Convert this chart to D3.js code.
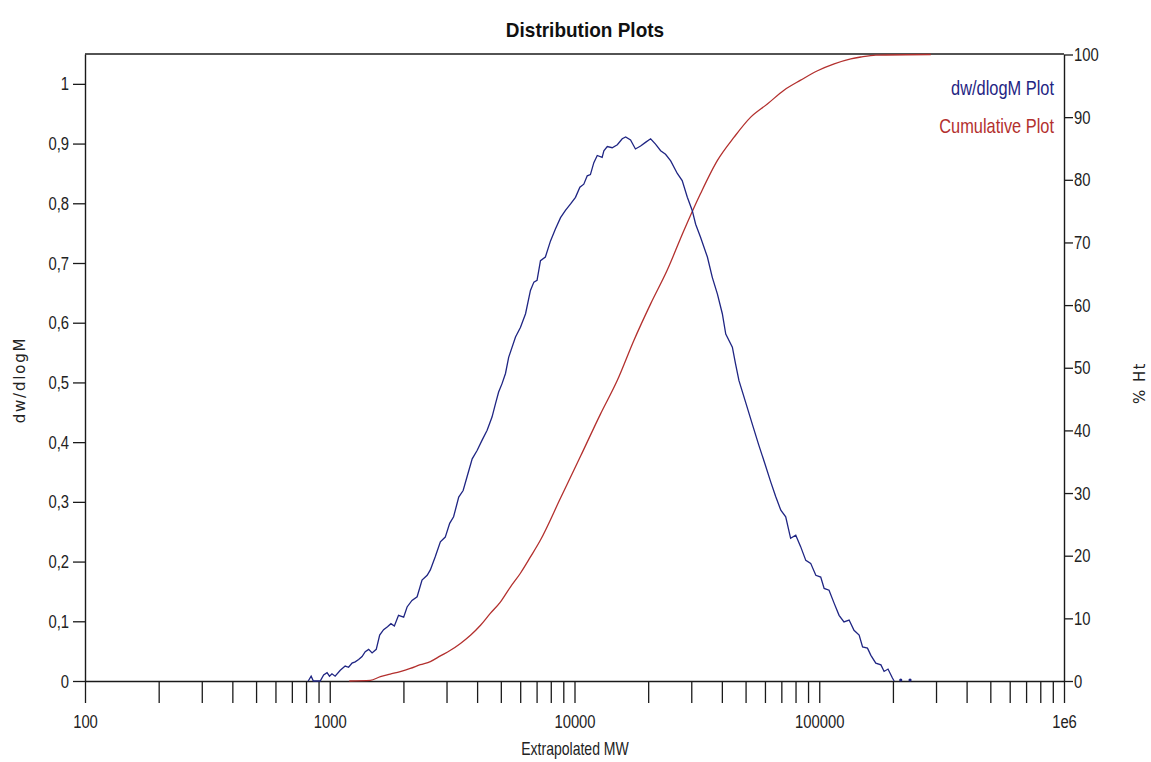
<!DOCTYPE html>
<html>
<head>
<meta charset="utf-8">
<script src="https://cdn.jsdelivr.net/npm/d3@7"></script>
<style>
  html, body { margin: 0; padding: 0; background: #ffffff; }
  svg { display: block; }
</style>
</head>
<body>
<svg id="chart" width="1151" height="762"></svg>
<script>
// dw/dlogM trace: log10(MW) and normalised weight fraction
const dwLogM = [
  2.912, 2.924, 2.933, 2.961, 2.975, 2.989, 2.999, 3.009, 3.022, 3.043,
  3.063, 3.077, 3.091, 3.104, 3.118, 3.132, 3.145, 3.159, 3.173, 3.190,
  3.204, 3.220, 3.236, 3.250, 3.264, 3.281, 3.302, 3.316, 3.336, 3.357,
  3.377, 3.398, 3.411, 3.431, 3.452, 3.472, 3.490, 3.506, 3.527, 3.545,
  3.561, 3.582, 3.602, 3.622, 3.643, 3.663, 3.677, 3.690, 3.704, 3.718,
  3.731, 3.759, 3.779, 3.800, 3.820, 3.834, 3.847, 3.861, 3.881, 3.902,
  3.922, 3.943, 3.963, 3.984, 4.004, 4.022, 4.038, 4.052, 4.065, 4.079,
  4.093, 4.113, 4.120, 4.134, 4.154, 4.175, 4.195, 4.209, 4.229, 4.249,
  4.270, 4.290, 4.311, 4.331, 4.352, 4.372, 4.393, 4.420, 4.440, 4.461,
  4.481, 4.495, 4.515, 4.543, 4.563, 4.584, 4.604, 4.618, 4.645, 4.658,
  4.672, 4.699, 4.728, 4.753, 4.777, 4.802, 4.822, 4.843, 4.863, 4.883,
  4.904, 4.924, 4.945, 4.965, 4.986, 5.006, 5.020, 5.040, 5.061, 5.081,
  5.101, 5.122, 5.142, 5.163, 5.177, 5.197, 5.211, 5.231, 5.252, 5.265,
  5.281, 5.299, 5.306
];
const dwValues = [
  0.000, 0.008, 0.000, 0.000, 0.010, 0.014, 0.008, 0.012, 0.008, 0.018,
  0.025, 0.023, 0.030, 0.032, 0.036, 0.041, 0.049, 0.053, 0.047, 0.053,
  0.077, 0.086, 0.091, 0.096, 0.092, 0.110, 0.107, 0.124, 0.135, 0.141,
  0.169, 0.177, 0.186, 0.208, 0.233, 0.241, 0.264, 0.275, 0.308, 0.319,
  0.342, 0.372, 0.386, 0.403, 0.420, 0.442, 0.464, 0.484, 0.498, 0.515,
  0.542, 0.576, 0.592, 0.615, 0.654, 0.668, 0.671, 0.704, 0.710, 0.737,
  0.757, 0.776, 0.788, 0.799, 0.810, 0.827, 0.832, 0.846, 0.848, 0.868,
  0.880, 0.877, 0.888, 0.895, 0.893, 0.898, 0.908, 0.911, 0.906, 0.891,
  0.896, 0.902, 0.908, 0.899, 0.888, 0.882, 0.871, 0.850, 0.838, 0.810,
  0.788, 0.765, 0.743, 0.710, 0.676, 0.648, 0.615, 0.581, 0.559, 0.531,
  0.503, 0.467, 0.428, 0.395, 0.365, 0.333, 0.309, 0.286, 0.275, 0.239,
  0.244, 0.225, 0.202, 0.197, 0.177, 0.174, 0.155, 0.152, 0.130, 0.110,
  0.099, 0.102, 0.085, 0.077, 0.057, 0.055, 0.043, 0.030, 0.027, 0.016,
  0.020, 0.005, 0.000
];
// isolated zero readings after the dw/dlogM trace ends
const dwTailLogM = [5.333, 5.371];

// cumulative trace: log10(MW) and % Ht
const cumLogM = [
  3.080, 3.166, 3.207, 3.247, 3.288, 3.329, 3.370, 3.411, 3.452, 3.493,
  3.534, 3.575, 3.616, 3.656, 3.697, 3.738, 3.779, 3.820, 3.861, 3.943,
  4.025, 4.106, 4.175, 4.243, 4.311, 4.379, 4.447, 4.515, 4.584, 4.652,
  4.720, 4.788, 4.856, 4.924, 4.993, 5.061, 5.129, 5.170, 5.231, 5.456
];
const cumValues = [
  0.0, 0.1, 0.7, 1.1, 1.5, 2.0, 2.6, 3.1, 4.0, 4.9,
  6.0, 7.3, 8.9, 10.8, 12.6, 15.0, 17.2, 19.8, 22.5, 29.2,
  35.9, 42.6, 48.0, 54.4, 60.2, 65.6, 71.9, 77.8, 83.1, 86.8,
  90.0, 92.1, 94.3, 95.9, 97.4, 98.5, 99.3, 99.6, 99.9, 100.0
];

const leftTicks = [0, 0.1, 0.2, 0.3, 0.4, 0.5, 0.6, 0.7, 0.8, 0.9, 1];
const rightTicks = [0, 10, 20, 30, 40, 50, 60, 70, 80, 90, 100];
const decadeTicks = [100, 1000, 10000, 100000, 1000000];
const decadeLabels = ["100", "1000", "10000", "100000", "1e6"];
const seriesNames = ["dw/dlogM Plot", "Cumulative Plot"];

const blue = "#1f2583";
const red = "#b3302e";
const ink = "#1a1a1a";

const svg = d3.select("#chart");
svg.append("rect").attr("width", 1151).attr("height", 762).attr("fill", "#fff");

const plot = { left: 85, right: 1064, top: 54, bottom: 681 };

const x = d3.scaleLog().domain([100, 1e6]).range([plot.left, plot.right]);
const yLeft = d3.scaleLinear().domain([0, 1.05]).range([plot.bottom, plot.top]);
const yRight = d3.scaleLinear().domain([0, 100]).range([plot.bottom, plot.top + 0.5]);

// minor + decade ticks on the MW axis
const allXTicks = [];
for (let e = 2; e < 6; e++) {
  for (let m = 1; m < 10; m++) allXTicks.push(m * Math.pow(10, e));
}
allXTicks.push(1e6);

const labelFont = "Liberation Sans, Arial, sans-serif";

// squeeze text horizontally about its anchor point to get a condensed face
function condense(sel, factor) {
  sel.each(function () {
    const ax = +(this.getAttribute("x") || 0);
    const prev = this.getAttribute("transform") || "";
    this.setAttribute("transform",
      `${prev} translate(${ax},0) scale(${factor},1) translate(${-ax},0)`.trim());
  });
}

// bottom axis
const xAxis = d3.axisBottom(x)
  .tickValues(allXTicks)
  .tickSize(22)
  .tickSizeOuter(0)
  .tickPadding(12)
  .tickFormat(d => {
    const i = decadeTicks.indexOf(d);
    return i >= 0 ? decadeLabels[i] : "";
  });
const gx = svg.append("g").attr("transform", `translate(0,${plot.bottom})`).call(xAxis);
gx.selectAll("path.domain").attr("stroke", ink).attr("stroke-width", 1.4);
gx.selectAll(".tick line").attr("stroke", ink).attr("stroke-width", 1.3);
gx.selectAll(".tick text").attr("fill", "#222").attr("font-size", 19).attr("font-family", labelFont);
condense(gx.selectAll(".tick text"), 0.78);

// left axis
const fmtLeft = d => (d === 0 || d === 1) ? String(d) : d.toFixed(1).replace(".", ",");
const yAxisL = d3.axisLeft(yLeft).tickValues(leftTicks).tickSize(12).tickSizeOuter(0).tickPadding(4).tickFormat(fmtLeft);
const gyl = svg.append("g").attr("transform", `translate(${plot.left},0)`).call(yAxisL);
gyl.selectAll("path.domain").attr("stroke", ink).attr("stroke-width", 1.4);
gyl.selectAll(".tick line").attr("stroke", ink).attr("stroke-width", 1.3);
gyl.selectAll(".tick text").attr("fill", "#222").attr("font-size", 19).attr("font-family", labelFont);
condense(gyl.selectAll(".tick text"), 0.78);

// right axis
const yAxisR = d3.axisRight(yRight).tickValues(rightTicks).tickSize(9).tickSizeOuter(0).tickPadding(1).tickFormat(d3.format("d"));
const gyr = svg.append("g").attr("transform", `translate(${plot.right},0)`).call(yAxisR);
gyr.selectAll("path.domain").attr("stroke", ink).attr("stroke-width", 1.4);
gyr.selectAll(".tick line").attr("stroke", ink).attr("stroke-width", 1.3);
gyr.selectAll(".tick text").attr("fill", "#222").attr("font-size", 19).attr("font-family", labelFont);
condense(gyr.selectAll(".tick text"), 0.78);

// top frame edge
svg.append("line")
  .attr("x1", plot.left).attr("x2", plot.right)
  .attr("y1", plot.top).attr("y2", plot.top)
  .attr("stroke", ink).attr("stroke-width", 1.4);

// cumulative curve
const cumData = cumLogM.map((l, i) => ({ m: Math.pow(10, l), v: cumValues[i] }));
svg.append("path")
  .datum(cumData)
  .attr("fill", "none")
  .attr("stroke", red)
  .attr("stroke-width", 1.3)
  .attr("d", d3.line().curve(d3.curveMonotoneX).x(d => x(d.m)).y(d => yRight(d.v)));

// dw/dlogM curve
const dwData = dwLogM.map((l, i) => ({ m: Math.pow(10, l), v: dwValues[i] }));
svg.append("path")
  .datum(dwData)
  .attr("fill", "none")
  .attr("stroke", blue)
  .attr("stroke-width", 1.3)
  .attr("d", d3.line().x(d => x(d.m)).y(d => yLeft(d.v)));

svg.selectAll("circle.tail")
  .data(dwTailLogM)
  .join("circle")
  .attr("class", "tail")
  .attr("cx", d => x(Math.pow(10, d)))
  .attr("cy", yLeft(0) - 1)
  .attr("r", 1.6)
  .attr("fill", blue);

// title
const title = svg.append("text")
  .attr("x", 585).attr("y", 37)
  .attr("text-anchor", "middle")
  .attr("font-family", "Liberation Sans, Arial, sans-serif")
  .attr("font-weight", "bold")
  .attr("font-size", 20)
  .attr("fill", "#111")
  .text("Distribution Plots");
condense(title, 0.95);

// x axis title
const xTitle = svg.append("text")
  .attr("x", 575).attr("y", 755)
  .attr("text-anchor", "middle")
  .attr("font-family", labelFont)
  .attr("font-size", 18)
  .attr("fill", "#222")
  .text("Extrapolated MW");
condense(xTitle, 0.78);

// left axis title
svg.append("text")
  .attr("transform", "translate(25,380) rotate(-90)")
  .attr("text-anchor", "middle")
  .attr("font-family", "DejaVu Sans, sans-serif")
  .attr("font-size", 15)
  .attr("fill", "#222")
  .attr("letter-spacing", 1.8)
  .text("dw/dlogM");

// right axis title
svg.append("text")
  .attr("transform", "translate(1145,383) rotate(-90)")
  .attr("text-anchor", "middle")
  .attr("font-family", "DejaVu Sans, sans-serif")
  .attr("font-size", 15)
  .attr("fill", "#222")
  .attr("letter-spacing", 1.4)
  .text("% Ht");

// legend
const legendColors = [blue, red];
const legend = svg.selectAll("text.legend")
  .data(seriesNames)
  .join("text")
  .attr("class", "legend")
  .attr("x", 1054)
  .attr("y", (d, i) => 95 + i * 38)
  .attr("text-anchor", "end")
  .attr("font-family", labelFont)
  .attr("font-size", 20)
  .attr("fill", (d, i) => legendColors[i])
  .text(d => d);
condense(legend, 0.82);
</script>
</body>
</html>
